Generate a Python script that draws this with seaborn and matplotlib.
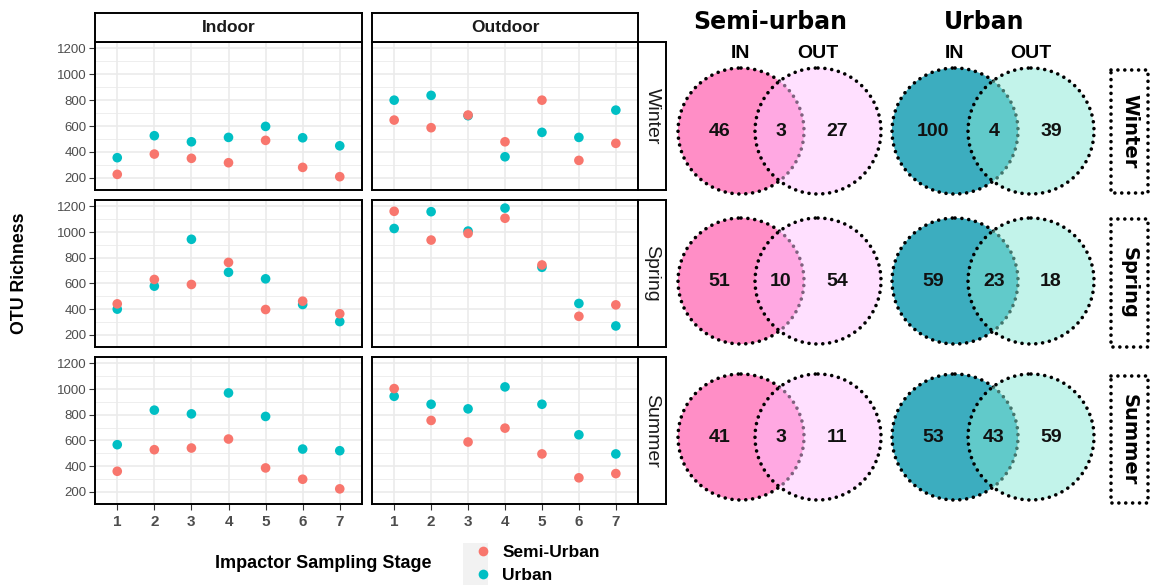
import numpy as np
import pandas as pd
import seaborn as sns
import matplotlib.pyplot as plt
from matplotlib.patches import Circle, Rectangle
from matplotlib.lines import Line2D

# %% data
stages = [1, 2, 3, 4, 5, 6, 7]
seasons = ["Winter", "Spring", "Summer"]
locations = ["Indoor", "Outdoor"]
sites = ["Semi-Urban", "Urban"]

winter_indoor_semi = [226, 383, 350, 316, 489, 280, 208]
winter_indoor_urban = [355, 525, 478, 512, 597, 509, 447]
winter_outdoor_semi = [646, 587, 685, 478, 800, 334, 466]
winter_outdoor_urban = [800, 837, 680, 362, 551, 512, 723]

spring_indoor_semi = [441, 631, 592, 764, 397, 462, 364]
spring_indoor_urban = [400, 579, 944, 687, 636, 436, 303]
spring_outdoor_semi = [1162, 938, 990, 1108, 744, 344, 433]
spring_outdoor_urban = [1028, 1159, 1008, 1187, 726, 444, 269]

summer_indoor_semi = [360, 528, 541, 611, 386, 298, 223]
summer_indoor_urban = [567, 836, 807, 970, 787, 533, 520]
summer_outdoor_semi = [1004, 756, 588, 696, 495, 309, 342]
summer_outdoor_urban = [944, 882, 846, 1017, 882, 644, 495]

# shared OTUs (IN only, shared, OUT only) per season
venn_semi_urban = {"Winter": [46, 3, 27], "Spring": [51, 10, 54], "Summer": [41, 3, 11]}
venn_urban = {"Winter": [100, 4, 39], "Spring": [59, 23, 18], "Summer": [53, 43, 59]}

series = {
    ("Winter", "Indoor", "Semi-Urban"): winter_indoor_semi,
    ("Winter", "Indoor", "Urban"): winter_indoor_urban,
    ("Winter", "Outdoor", "Semi-Urban"): winter_outdoor_semi,
    ("Winter", "Outdoor", "Urban"): winter_outdoor_urban,
    ("Spring", "Indoor", "Semi-Urban"): spring_indoor_semi,
    ("Spring", "Indoor", "Urban"): spring_indoor_urban,
    ("Spring", "Outdoor", "Semi-Urban"): spring_outdoor_semi,
    ("Spring", "Outdoor", "Urban"): spring_outdoor_urban,
    ("Summer", "Indoor", "Semi-Urban"): summer_indoor_semi,
    ("Summer", "Indoor", "Urban"): summer_indoor_urban,
    ("Summer", "Outdoor", "Semi-Urban"): summer_outdoor_semi,
    ("Summer", "Outdoor", "Urban"): summer_outdoor_urban,
}

rows = []
# urban first so the red points sit on top
for site in ["Urban", "Semi-Urban"]:
    for (season, loc, s), vals in series.items():
        if s != site:
            continue
        for st, v in zip(stages, vals):
            rows.append({"season": season, "location": loc, "site": site,
                         "stage": st, "richness": v})
df = pd.DataFrame(rows)

palette = {"Semi-Urban": "#F8766D", "Urban": "#00BFC4"}

# %% layout helpers (pixel boxes)
W, H = 1157, 585
sns.set_theme(style="white")
plt.rcParams["font.family"] = ["Liberation Sans", "DejaVu Sans"]
plt.rcParams["text.color"] = "black"

fig = plt.figure(figsize=(W / 100, H / 100), dpi=100)


def box(x0, y0, x1, y1):
    return [x0 / W, 1 - y1 / H, (x1 - x0) / W, (y1 - y0) / H]


col_x = {"Indoor": (95, 362), "Outdoor": (372, 638)}
row_y = {"Winter": (42, 190), "Spring": (200, 347), "Summer": (357, 504)}

for season in seasons:
    for loc in locations:
        x0, x1 = col_x[loc]
        y0, y1 = row_y[season]
        ax = fig.add_axes(box(x0, y0, x1, y1))
        sub = df[(df.season == season) & (df.location == loc)]
        sns.scatterplot(data=sub, x="stage", y="richness", hue="site",
                        palette=palette, s=48, edgecolor="none", ax=ax,
                        legend=False, zorder=3)
        ax.set_xlim(0.4, 7.6)
        ax.set_ylim(105, 1250)
        ax.set_xticks(stages)
        ax.set_yticks([200, 400, 600, 800, 1000, 1200])
        ax.set_yticks([300, 500, 700, 900, 1100], minor=True)
        ax.grid(True, which="major", color="#EBEBEB", lw=1.2)
        ax.grid(True, which="minor", axis="y", color="#EBEBEB", lw=0.6)
        ax.set_axisbelow(True)
        ax.set_xlabel("")
        ax.set_ylabel("")
        for sp in ax.spines.values():
            sp.set_color("black")
            sp.set_linewidth(1.4)
        ax.tick_params(which="minor", length=0)
        if loc == "Indoor":
            ax.tick_params(axis="y", length=4, width=0.8, color="#333333",
                           labelsize=9.5, labelcolor="#4D4D4D", pad=2, left=True)
        else:
            ax.tick_params(axis="y", left=False, labelleft=False)
        if season == "Summer":
            ax.tick_params(axis="x", length=4, width=0.8, color="#333333",
                           labelsize=11, labelcolor="#4D4D4D", pad=4, bottom=True)
            for t in ax.get_xticklabels():
                t.set_fontweight("bold")
        else:
            ax.tick_params(axis="x", bottom=False, labelbottom=False)

# column strips
for loc in locations:
    x0, x1 = col_x[loc]
    sax = fig.add_axes(box(x0, 13, x1, 42))
    sax.set_xticks([])
    sax.set_yticks([])
    for sp in sax.spines.values():
        sp.set_color("black")
        sp.set_linewidth(1.4)
    sax.text(0.5, 0.5, loc, ha="center", va="center", fontsize=12.5,
             fontweight="bold", color="#1A1A1A", transform=sax.transAxes)

# row strips
for season in seasons:
    y0, y1 = row_y[season]
    sax = fig.add_axes(box(638, y0, 666, y1))
    sax.set_xticks([])
    sax.set_yticks([])
    for sp in sax.spines.values():
        sp.set_color("black")
        sp.set_linewidth(1.4)
    sax.text(0.5, 0.5, season, ha="center", va="center", fontsize=14,
             rotation=-90, color="#1A1A1A", transform=sax.transAxes)

fig.text(20 / W, 1 - 273 / H, "OTU Richness", rotation=90, ha="center",
         va="center", fontsize=12.8, fontweight="bold")
fig.text(323 / W, 1 - 564 / H, "Impactor Sampling Stage", ha="center",
         va="center", fontsize=13, fontweight="bold")

# legend
fig.patches.append(Rectangle((463 / W, 0), 25 / W, 42 / H, transform=fig.transFigure,
                             facecolor="#F2F2F2", edgecolor="none"))
handles = [Line2D([], [], ls="none", marker="o", ms=7, mec="none", mfc=palette[s])
           for s in sites]
fig.legend(handles, sites, loc="center left", bbox_to_anchor=(466 / W, 1 - 564 / H),
           frameon=False, handletextpad=0.6, labelspacing=0.5,
           prop={"weight": "bold", "size": 12.5}, handlelength=1.0, borderpad=0)

# %% Venn diagrams
vax = fig.add_axes([0, 0, 1, 1])
vax.set_xlim(0, W)
vax.set_ylim(H, 0)
vax.axis("off")
vax.patch.set_alpha(0)

r = 63
dotted = (0, (0.01, 1.9))
groups = [
    ("Semi-urban", venn_semi_urban, 741, 818, "#FF8EC6", (1.0, 0.76, 1.0, 0.5)),
    ("Urban", venn_urban, 955, 1031, "#3CADBF", (0.53, 0.91, 0.84, 0.5)),
]
venn_y = {"Winter": 131, "Spring": 281, "Summer": 437}

for title, counts, cl, cr, col_in, col_out in groups:
    vax.text((cl + cr) / 2 - 9, 22, title, ha="center", va="center",
             fontsize=17, fontweight="heavy", family="DejaVu Sans")
    vax.text(cl, 54, "IN", ha="center", va="center", fontsize=14, fontweight="bold")
    vax.text(cr, 54, "OUT", ha="center", va="center", fontsize=14, fontweight="bold")
    for season in seasons:
        cy = venn_y[season]
        vax.add_patch(Circle((cl, cy), r, facecolor=col_in, edgecolor="black",
                             lw=2.6, ls=dotted, capstyle="round"))
        vax.add_patch(Circle((cr, cy), r, facecolor=col_out, edgecolor="black",
                             lw=2.6, ls=dotted, capstyle="round"))
        n_in, n_shared, n_out = counts[season]
        xs = [(cl - r + cr - r) / 2 + 3, (cl + cr) / 2 + 1, (cl + r + cr + r) / 2 - 5]
        for xv, n in zip(xs, [n_in, n_shared, n_out]):
            vax.text(xv, cy, str(n), ha="center", va="center", fontsize=14,
                     fontweight="bold", color="#111111")

for season in seasons:
    y0, y1 = {"Winter": (70, 193), "Spring": (219, 347), "Summer": (376, 503)}[season]
    vax.add_patch(Rectangle((1111, y0), 37, y1 - y0, facecolor="white",
                            edgecolor="black", lw=2.6, ls=dotted, capstyle="round"))
    vax.text(1129.5, (y0 + y1) / 2, season, rotation=-90, ha="center", va="center",
             fontsize=14, fontweight="heavy", family="DejaVu Sans")

fig.savefig("out.png", dpi=100)
